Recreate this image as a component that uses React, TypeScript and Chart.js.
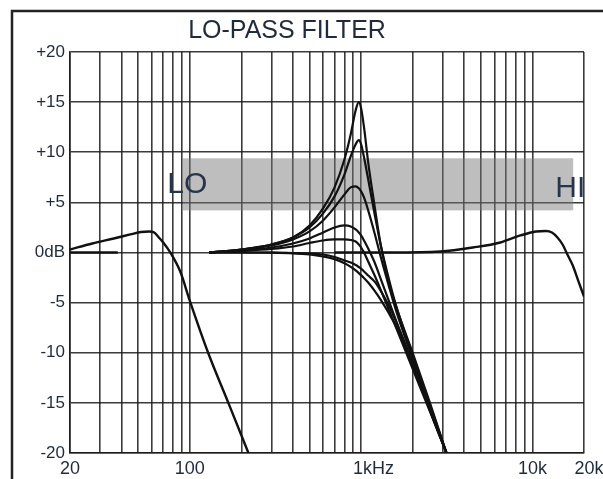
import React, { useEffect, useRef } from "react";
import { Chart, registerables } from "chart.js";

Chart.register(...registerables);

// ---- text ----
const TITLE = "LO-PASS FILTER";
const BAND_TEXT_LO = "LO";
const BAND_TEXT_HI = "HI";

// ---- axes ----
const X_GRID = [
  20, 30, 40, 50, 60, 70, 80, 90, 100, 200, 300, 400, 500, 600, 700, 800, 900,
  1000, 2000, 3000, 4000, 5000, 6000, 7000, 8000, 9000, 10000, 20000,
];
const X_LABEL_VALUES = [20, 100, 1000, 10000, 20000];
const X_LABELS = ["20", "100", "     1kHz", "10k", "  20k"];
const Y_TICKS = [-20, -15, -10, -5, 0, 5, 10, 15, 20];
const Y_LABELS = ["-20", "-15", "-10", "-5", "0dB", "+5", "+10", "+15", "+20"];

// ---- shaded band (freq range, dB range) and its labels (freq, dB) ----
const BAND_FREQ = [91, 17300];
const BAND_DB = [4.2, 9.4];
const LO_POS = [74, 5.9];
const HI_POS = [13600, 5.5];

// ---- curves ----
const FLAT_FREQ = [20, 38];
const FLAT_DB = [0, 0];

const LO_FREQ = [20, 27, 36, 45, 52, 58, 62, 66, 70, 77, 88, 100, 128, 168, 220];
const LO_DB = [0.3, 0.9, 1.4, 1.8, 2.05, 2.1, 2.0, 1.5, 1.0, 0.0, -1.9, -4.8, -10, -15, -20];

const HI_FREQ = [700, 1500, 2900, 4500, 6500, 8500, 10500, 12000, 13000, 14000, 15000, 16000, 17200, 18500, 20000];
const HI_DB = [0, 0, 0.1, 0.5, 1.0, 1.7, 2.1, 2.15, 2.0, 1.5, 0.8, -0.2, -1.3, -2.8, -4.4];

const RES_FREQ = [130, 200, 300, 400, 500, 600, 700, 800, 870, 930, 970, 1000, 1040, 1100, 1200, 1300, 1450, 1600, 2000, 2500, 3150];
const RES_A = [0, 0.3, 0.8, 1.5, 2.7, 4.4, 6.5, 9.3, 11.8, 14.2, 15.0, 14.4, 12.5, 9.0, 4.6, 0.8, -2.9, -5.4, -10.0, -14.8, -20];
const RES_B = [0, 0.3, 0.8, 1.5, 2.5, 3.9, 5.6, 7.8, 9.6, 10.8, 11.2, 10.8, 9.5, 7.3, 3.8, 0.8, -2.6, -5.3, -10.2, -15.0, -20];
const RES_C = [0, 0.3, 0.7, 1.3, 2.1, 3.2, 4.5, 5.8, 6.5, 6.6, 6.4, 6.1, 5.5, 4.2, 1.9, -0.4, -3.3, -5.8, -10.6, -15.2, -20];
const RES_D = [0, 0.2, 0.5, 0.9, 1.4, 2.0, 2.5, 2.7, 2.6, 2.3, 2.0, 1.7, 1.2, 0.4, -1.0, -2.6, -4.8, -6.8, -11.2, -15.5, -20];
const RES_E = [0, 0.15, 0.35, 0.6, 0.95, 1.2, 1.3, 1.3, 1.25, 1.1, 0.8, 0.5, 0.0, -0.9, -2.3, -3.7, -5.7, -7.5, -11.6, -15.7, -20];
const RES_F1 = [0, 0, 0, -0.05, -0.1, -0.2, -0.45, -0.8, -1.0, -1.25, -1.45, -1.6, -1.9, -2.3, -2.9, -3.8, -5.3, -6.9, -11.0, -15.5, -20];
const RES_F2 = [0, 0, -0.02, -0.08, -0.2, -0.4, -0.66, -1.07, -1.43, -1.79, -2.05, -2.26, -2.55, -3.0, -3.83, -4.7, -6.04, -7.38, -11.2, -15.6, -20];

const FONT = '"Liberation Sans", Arial, Helvetica, sans-serif';
const TEXT_COLOR = "#1f2a3d";
const GRID_COLOR = "rgba(25,25,25,0.85)";
const LINE_COLOR = "#111111";

function zip(xs: number[], ys: number[]) {
  return xs.map((x, i) => ({ x, y: ys[i] }));
}

const decorPlugin = {
  id: "decor",
  beforeDraw(chart: any) {
    const ctx = chart.ctx;
    ctx.save();
    ctx.fillStyle = "#ffffff";
    ctx.fillRect(0, 0, chart.width, chart.height);
    ctx.strokeStyle = "#222222";
    ctx.lineWidth = 2.5;
    ctx.beginPath();
    ctx.moveTo(12, chart.height);
    ctx.lineTo(12, 11);
    ctx.lineTo(chart.width, 11);
    ctx.stroke();
    ctx.fillStyle = TEXT_COLOR;
    ctx.font = `25px ${FONT}`;
    ctx.textAlign = "center";
    ctx.textBaseline = "alphabetic";
    ctx.fillText(TITLE, 287, 38);
    ctx.restore();
  },
  beforeDatasetsDraw(chart: any) {
    const { ctx, chartArea } = chart;
    const xs = chart.scales.x;
    const ys = chart.scales.y;
    ctx.save();
    ctx.beginPath();
    ctx.rect(chartArea.left, chartArea.top, chartArea.right - chartArea.left, chartArea.bottom - chartArea.top);
    ctx.clip();
    const x0 = xs.getPixelForValue(BAND_FREQ[0]);
    const x1 = xs.getPixelForValue(BAND_FREQ[1]);
    const y0 = ys.getPixelForValue(BAND_DB[1]);
    const y1 = ys.getPixelForValue(BAND_DB[0]);
    ctx.fillStyle = "rgba(120,120,120,0.48)";
    ctx.fillRect(x0, y0, x1 - x0, y1 - y0);
    ctx.fillStyle = "#26344c";
    ctx.font = `30px ${FONT}`;
    ctx.textAlign = "left";
    ctx.textBaseline = "alphabetic";
    ctx.fillText(BAND_TEXT_LO, xs.getPixelForValue(LO_POS[0]), ys.getPixelForValue(LO_POS[1]));
    ctx.fillText(BAND_TEXT_HI, xs.getPixelForValue(HI_POS[0]), ys.getPixelForValue(HI_POS[1]));
    ctx.restore();
  },
};

export default function App() {
  const ref = useRef<HTMLCanvasElement | null>(null);

  useEffect(() => {
    if (!ref.current) return;
    const line = (data: { x: number; y: number }[], width = 2.2) => ({
      data,
      borderColor: LINE_COLOR,
      borderWidth: width,
      pointRadius: 0,
      cubicInterpolationMode: "monotone" as const,
      fill: false,
    });
    const chart = new Chart(ref.current, {
      type: "line",
      data: {
        datasets: [
          line(zip(FLAT_FREQ, FLAT_DB), 2.6),
          line(zip(LO_FREQ, LO_DB), 2.4),
          line(zip(HI_FREQ, HI_DB), 2.4),
          line(zip(RES_FREQ, RES_A)),
          line(zip(RES_FREQ, RES_B)),
          line(zip(RES_FREQ, RES_C)),
          line(zip(RES_FREQ, RES_D)),
          line(zip(RES_FREQ, RES_E)),
          line(zip(RES_FREQ, RES_F1)),
          line(zip(RES_FREQ, RES_F2)),
        ],
      },
      options: {
        animation: false,
        responsive: false,
        maintainAspectRatio: false,
        layout: { padding: { left: 12, right: 19, top: 52, bottom: 0 } },
        plugins: {
          legend: { display: false },
          tooltip: { enabled: false },
          title: { display: false },
        },
        scales: {
          x: {
            type: "logarithmic",
            min: 20,
            max: 20000,
            afterBuildTicks: (scale: any) => {
              scale.ticks = X_GRID.map((v) => ({ value: v }));
            },
            afterFit: (scale: any) => {
              scale.height = 26;
              scale.paddingLeft = 0;
              scale.paddingRight = 0;
            },
            grid: { color: GRID_COLOR, lineWidth: 1.6, drawTicks: false },
            border: { display: true, color: GRID_COLOR, width: 1.6 },
            ticks: {
              autoSkip: false,
              maxRotation: 0,
              minRotation: 0,
              padding: 5,
              color: TEXT_COLOR,
              font: { family: FONT, size: 18 },
              callback: (value: any) => {
                const i = X_LABEL_VALUES.indexOf(Number(value));
                return i >= 0 ? X_LABELS[i] : "";
              },
            },
          },
          y: {
            type: "linear",
            min: -20,
            max: 20,
            afterBuildTicks: (scale: any) => {
              scale.ticks = Y_TICKS.map((v) => ({ value: v }));
            },
            afterFit: (scale: any) => {
              scale.width = 58;
              scale.paddingTop = 0;
              scale.paddingBottom = 0;
            },
            grid: { color: GRID_COLOR, lineWidth: 1.6, drawTicks: false },
            border: { display: true, color: GRID_COLOR, width: 1.6 },
            ticks: {
              padding: 5,
              color: TEXT_COLOR,
              font: { family: FONT, size: 17 },
              callback: (value: any) => {
                const i = Y_TICKS.indexOf(Number(value));
                return i >= 0 ? Y_LABELS[i] : "";
              },
            },
          },
        },
      },
      plugins: [decorPlugin],
    } as any);
    return () => chart.destroy();
  }, []);

  return (
    <div style={{ position: "fixed", left: 0, top: 0, width: 603, height: 479, background: "#fff" }}>
      <canvas ref={ref} width={603} height={479} style={{ display: "block", width: 603, height: 479 }} />
    </div>
  );
}
